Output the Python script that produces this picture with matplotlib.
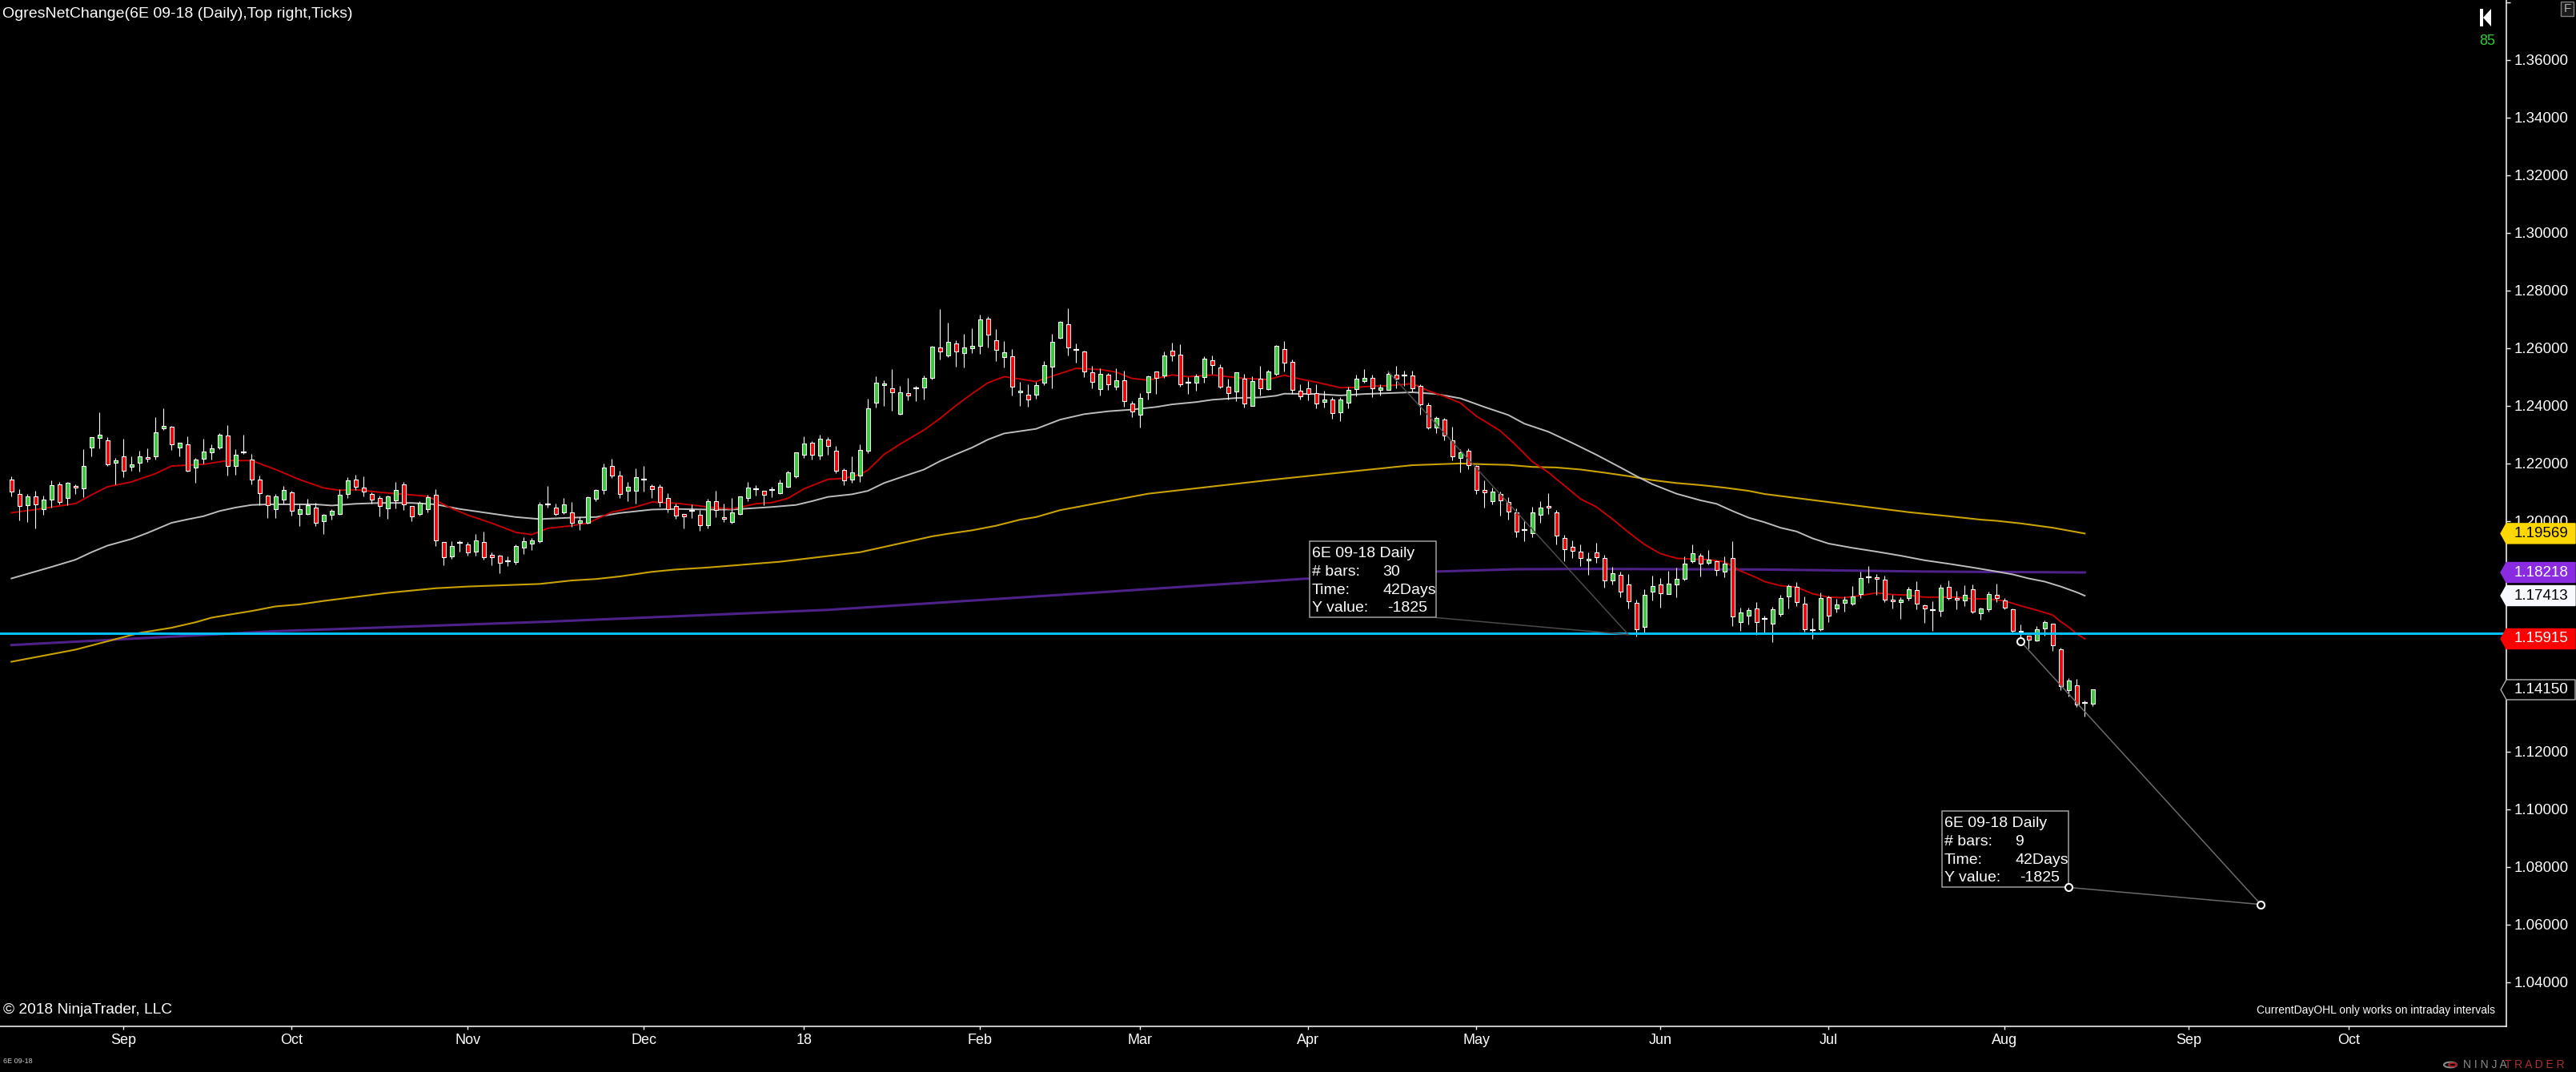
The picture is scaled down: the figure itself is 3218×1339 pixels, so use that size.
import numpy as np
import matplotlib
matplotlib.use('Agg')
import matplotlib.pyplot as plt
from matplotlib.patches import Rectangle, Polygon, Circle
import matplotlib.transforms as mtransforms

plt.rcParams['font.family'] = ['Liberation Sans', 'DejaVu Sans']

# ---- daily bars, 6E 09-18 (bar index 0 = 14 Aug 2017) ----
opens = [1.2144, 1.2095, 1.2054, 1.2085, 1.2042, 1.2074, 1.2127, 1.2080, 1.2121, 1.2113,
         1.2255, 1.2288, 1.2280, 1.2202, 1.2224, 1.2188, 1.2202, 1.2221, 1.2224, 1.2321,
         1.2327, 1.2255, 1.2266, 1.2187, 1.2216, 1.2238, 1.2254, 1.2296, 1.2191, 1.2239,
         1.2213, 1.2144, 1.2088, 1.2041, 1.2076, 1.2099, 1.2024, 1.2026, 1.2046, 1.1999,
         1.2021, 1.2026, 1.2093, 1.2144, 1.2116, 1.2094, 1.2080, 1.2045, 1.2071, 1.2127,
         1.2052, 1.2026, 1.2040, 1.2091, 1.1927, 1.1877, 1.1926, 1.1919, 1.1893, 1.1927,
         1.1882, 1.1880, 1.1862, 1.1859, 1.1907, 1.1921, 1.1929, 1.2059, 1.2046, 1.2031,
         1.2030, 1.1993, 1.1995, 1.2077, 1.2107, 1.2191, 1.2157, 1.2105, 1.2105, 1.2144,
         1.2121, 1.2119, 1.2080, 1.2052, 1.2024, 1.2035, 1.2021, 1.1985, 1.2068, 1.2013,
         1.1996, 1.2026, 1.2080, 1.2111, 1.2105, 1.2107, 1.2098, 1.2120, 1.2154, 1.2231,
         1.2271, 1.2228, 1.2282, 1.2244, 1.2177, 1.2145, 1.2157, 1.2244, 1.2410, 1.2472,
         1.2462, 1.2373, 1.2445, 1.2461, 1.2463, 1.2498, 1.2602, 1.2574, 1.2616, 1.2582,
         1.2599, 1.2607, 1.2702, 1.2627, 1.2569, 1.2571, 1.2447, 1.2438, 1.2438, 1.2480,
         1.2535, 1.2635, 1.2682, 1.2594, 1.2588, 1.2516, 1.2457, 1.2507, 1.2466, 1.2488,
         1.2409, 1.2368, 1.2446, 1.2518, 1.2505, 1.2591, 1.2577, 1.2481, 1.2480, 1.2499,
         1.2557, 1.2532, 1.2466, 1.2449, 1.2493, 1.2399, 1.2493, 1.2457, 1.2510, 1.2596,
         1.2552, 1.2452, 1.2460, 1.2443, 1.2413, 1.2421, 1.2377, 1.2410, 1.2457, 1.2485,
         1.2496, 1.2455, 1.2456, 1.2507, 1.2504, 1.2505, 1.2469, 1.2402, 1.2326, 1.2352,
         1.2280, 1.2218, 1.2244, 1.2191, 1.2107, 1.2069, 1.2094, 1.2066, 1.2030, 1.1968,
         1.1957, 1.2021, 1.2052, 1.2030, 1.1941, 1.1910, 1.1894, 1.1863, 1.1891, 1.1871,
         1.1793, 1.1813, 1.1780, 1.1716, 1.1632, 1.1755, 1.1780, 1.1746, 1.1780, 1.1799,
         1.1860, 1.1880, 1.1855, 1.1860, 1.1824, 1.1871, 1.1651, 1.1671, 1.1696, 1.1662,
         1.1644, 1.1677, 1.1738, 1.1771, 1.1713, 1.1621, 1.1624, 1.1735, 1.1696, 1.1716,
         1.1713, 1.1746, 1.1805, 1.1805, 1.1796, 1.1727, 1.1719, 1.1732, 1.1760, 1.1707,
         1.1691, 1.1688, 1.1771, 1.1732, 1.1724, 1.1763, 1.1680, 1.1694, 1.1744, 1.1724,
         1.1694, 1.1619, 1.1602, 1.1585, 1.1627, 1.1644, 1.1555, 1.1413, 1.1430, 1.1369,
         1.1366]
highs = [1.2156, 1.2111, 1.2094, 1.2106, 1.2088, 1.2142, 1.2136, 1.2136, 1.2128, 1.2250,
         1.2291, 1.2378, 1.2292, 1.2219, 1.2285, 1.2225, 1.2244, 1.2253, 1.2361, 1.2392,
         1.2330, 1.2271, 1.2294, 1.2219, 1.2285, 1.2267, 1.2304, 1.2333, 1.2250, 1.2300,
         1.2233, 1.2158, 1.2092, 1.2094, 1.2122, 1.2105, 1.2061, 1.2077, 1.2064, 1.2024,
         1.2041, 1.2110, 1.2153, 1.2160, 1.2156, 1.2100, 1.2088, 1.2088, 1.2136, 1.2136,
         1.2052, 1.2069, 1.2090, 1.2111, 1.1927, 1.1931, 1.1933, 1.1928, 1.1956, 1.1964,
         1.1892, 1.1884, 1.1878, 1.1919, 1.1943, 1.1941, 1.2066, 1.2122, 1.2060, 1.2081,
         1.2067, 1.2016, 1.2086, 1.2112, 1.2200, 1.2217, 1.2175, 1.2137, 1.2183, 1.2192,
         1.2128, 1.2128, 1.2097, 1.2060, 1.2025, 1.2058, 1.2039, 1.2078, 1.2105, 1.2061,
         1.2080, 1.2085, 1.2135, 1.2125, 1.2105, 1.2119, 1.2144, 1.2174, 1.2238, 1.2294,
         1.2278, 1.2300, 1.2292, 1.2261, 1.2183, 1.2225, 1.2266, 1.2425, 1.2503, 1.2488,
         1.2528, 1.2470, 1.2497, 1.2470, 1.2506, 1.2609, 1.2736, 1.2689, 1.2628, 1.2650,
         1.2670, 1.2717, 1.2711, 1.2667, 1.2625, 1.2596, 1.2483, 1.2475, 1.2484, 1.2556,
         1.2650, 1.2693, 1.2739, 1.2617, 1.2591, 1.2538, 1.2530, 1.2514, 1.2530, 1.2521,
         1.2416, 1.2444, 1.2506, 1.2518, 1.2589, 1.2619, 1.2614, 1.2500, 1.2511, 1.2572,
         1.2575, 1.2543, 1.2493, 1.2516, 1.2511, 1.2502, 1.2539, 1.2525, 1.2611, 1.2625,
         1.2560, 1.2474, 1.2486, 1.2474, 1.2452, 1.2429, 1.2429, 1.2466, 1.2508, 1.2528,
         1.2508, 1.2474, 1.2521, 1.2538, 1.2521, 1.2521, 1.2474, 1.2411, 1.2364, 1.2357,
         1.2327, 1.2249, 1.2252, 1.2195, 1.2141, 1.2116, 1.2102, 1.2082, 1.2044, 1.2002,
         1.2049, 1.2069, 1.2096, 1.2038, 1.1952, 1.1932, 1.1919, 1.1891, 1.1924, 1.1882,
         1.1841, 1.1824, 1.1816, 1.1727, 1.1763, 1.1810, 1.1802, 1.1827, 1.1838, 1.1877,
         1.1919, 1.1888, 1.1899, 1.1864, 1.1877, 1.1930, 1.1699, 1.1699, 1.1719, 1.1672,
         1.1702, 1.1744, 1.1781, 1.1788, 1.1738, 1.1663, 1.1753, 1.1741, 1.1730, 1.1738,
         1.1774, 1.1824, 1.1844, 1.1816, 1.1810, 1.1744, 1.1735, 1.1771, 1.1791, 1.1711,
         1.1722, 1.1780, 1.1793, 1.1757, 1.1777, 1.1780, 1.1699, 1.1755, 1.1782, 1.1732,
         1.1696, 1.1642, 1.1602, 1.1635, 1.1655, 1.1644, 1.1560, 1.1455, 1.1452, 1.1377,
         1.1416]
lows = [1.2086, 1.2003, 1.1997, 1.1975, 1.2023, 1.2047, 1.2058, 1.2054, 1.2094, 1.2084,
        1.2225, 1.2253, 1.2190, 1.2128, 1.2153, 1.2176, 1.2172, 1.2205, 1.2214, 1.2315,
        1.2247, 1.2225, 1.2172, 1.2134, 1.2199, 1.2213, 1.2250, 1.2158, 1.2161, 1.2233,
        1.2128, 1.2054, 1.2012, 1.2012, 1.2062, 1.2020, 1.1984, 1.2023, 1.1984, 1.1954,
        1.2004, 1.2023, 1.2079, 1.2108, 1.2086, 1.2061, 1.2017, 1.2009, 1.2044, 1.2039,
        1.2000, 1.2019, 1.2029, 1.1914, 1.1848, 1.1868, 1.1894, 1.1879, 1.1881, 1.1867,
        1.1847, 1.1819, 1.1845, 1.1851, 1.1887, 1.1901, 1.1926, 1.2047, 1.2018, 1.2026,
        1.1981, 1.1970, 1.1991, 1.2069, 1.2093, 1.2151, 1.2081, 1.2069, 1.2060, 1.2103,
        1.2081, 1.2050, 1.2031, 1.2007, 1.1975, 1.2012, 1.1965, 1.1976, 1.2014, 1.1998,
        1.1991, 1.2021, 1.2068, 1.2088, 1.2055, 1.2084, 1.2094, 1.2116, 1.2151, 1.2218,
        1.2214, 1.2214, 1.2231, 1.2165, 1.2126, 1.2132, 1.2137, 1.2237, 1.2394, 1.2401,
        1.2384, 1.2370, 1.2418, 1.2415, 1.2423, 1.2491, 1.2562, 1.2570, 1.2535, 1.2532,
        1.2582, 1.2580, 1.2602, 1.2554, 1.2532, 1.2437, 1.2401, 1.2396, 1.2424, 1.2471,
        1.2462, 1.2632, 1.2576, 1.2551, 1.2501, 1.2462, 1.2437, 1.2456, 1.2454, 1.2398,
        1.2362, 1.2326, 1.2423, 1.2440, 1.2498, 1.2554, 1.2465, 1.2440, 1.2453, 1.2479,
        1.2512, 1.2462, 1.2421, 1.2416, 1.2395, 1.2399, 1.2437, 1.2455, 1.2505, 1.2520,
        1.2440, 1.2423, 1.2420, 1.2392, 1.2395, 1.2354, 1.2348, 1.2392, 1.2434, 1.2479,
        1.2429, 1.2437, 1.2454, 1.2460, 1.2468, 1.2449, 1.2370, 1.2320, 1.2304, 1.2279,
        1.2212, 1.2170, 1.2179, 1.2095, 1.2048, 1.2057, 1.2018, 1.2004, 1.1945, 1.1929,
        1.1945, 1.1993, 1.2026, 1.1920, 1.1862, 1.1873, 1.1845, 1.1813, 1.1854, 1.1770,
        1.1781, 1.1737, 1.1698, 1.1601, 1.1614, 1.1726, 1.1701, 1.1746, 1.1737, 1.1793,
        1.1855, 1.1807, 1.1849, 1.1812, 1.1804, 1.1637, 1.1618, 1.1640, 1.1604, 1.1614,
        1.1579, 1.1670, 1.1698, 1.1704, 1.1615, 1.1590, 1.1620, 1.1651, 1.1682, 1.1687,
        1.1707, 1.1734, 1.1787, 1.1745, 1.1718, 1.1697, 1.1662, 1.1724, 1.1695, 1.1648,
        1.1618, 1.1670, 1.1727, 1.1695, 1.1704, 1.1679, 1.1657, 1.1685, 1.1720, 1.1693,
        1.1613, 1.1597, 1.1559, 1.1582, 1.1602, 1.1551, 1.1413, 1.1391, 1.1354, 1.1323,
        1.1357]
closes = [1.2102, 1.2052, 1.2085, 1.2057, 1.2074, 1.2124, 1.2066, 1.2132, 1.2116, 1.2191,
          1.2291, 1.2299, 1.2198, 1.2210, 1.2174, 1.2196, 1.2224, 1.2216, 1.2307, 1.2330,
          1.2266, 1.2271, 1.2174, 1.2213, 1.2241, 1.2252, 1.2299, 1.2191, 1.2230, 1.2239,
          1.2144, 1.2096, 1.2055, 1.2085, 1.2107, 1.2035, 1.2041, 1.2055, 1.1993, 1.2021,
          1.2035, 1.2091, 1.2141, 1.2119, 1.2102, 1.2074, 1.2052, 1.2085, 1.2107, 1.2057,
          1.2015, 1.2063, 1.2082, 1.1934, 1.1874, 1.1913, 1.1926, 1.1890, 1.1932, 1.1876,
          1.1876, 1.1854, 1.1862, 1.1913, 1.1930, 1.1932, 1.2057, 1.2059, 1.2026, 1.2057,
          1.1993, 1.2002, 1.2083, 1.2107, 1.2185, 1.2157, 1.2094, 1.2119, 1.2152, 1.2144,
          1.2110, 1.2066, 1.2041, 1.2020, 1.2016, 1.2035, 1.1985, 1.2068, 1.2038, 1.2007,
          1.2030, 1.2085, 1.2116, 1.2111, 1.2091, 1.2107, 1.2132, 1.2169, 1.2238, 1.2269,
          1.2230, 1.2285, 1.2260, 1.2174, 1.2141, 1.2169, 1.2246, 1.2391, 1.2480, 1.2477,
          1.2446, 1.2446, 1.2435, 1.2461, 1.2496, 1.2605, 1.2588, 1.2621, 1.2588, 1.2602,
          1.2607, 1.2699, 1.2646, 1.2594, 1.2585, 1.2466, 1.2452, 1.2421, 1.2471, 1.2541,
          1.2623, 1.2691, 1.2602, 1.2594, 1.2518, 1.2482, 1.2510, 1.2474, 1.2488, 1.2416,
          1.2380, 1.2427, 1.2502, 1.2496, 1.2574, 1.2574, 1.2474, 1.2481, 1.2502, 1.2563,
          1.2541, 1.2466, 1.2443, 1.2516, 1.2407, 1.2485, 1.2460, 1.2518, 1.2607, 1.2549,
          1.2455, 1.2432, 1.2441, 1.2407, 1.2421, 1.2374, 1.2421, 1.2455, 1.2493, 1.2496,
          1.2460, 1.2463, 1.2510, 1.2493, 1.2504, 1.2460, 1.2405, 1.2326, 1.2357, 1.2296,
          1.2224, 1.2238, 1.2195, 1.2109, 1.2099, 1.2102, 1.2071, 1.2032, 1.1963, 1.1968,
          1.2030, 1.2046, 1.2046, 1.1949, 1.1902, 1.1896, 1.1871, 1.1868, 1.1874, 1.1793,
          1.1818, 1.1755, 1.1721, 1.1624, 1.1744, 1.1774, 1.1749, 1.1782, 1.1799, 1.1852,
          1.1888, 1.1852, 1.1866, 1.1830, 1.1852, 1.1669, 1.1682, 1.1691, 1.1649, 1.1662,
          1.1694, 1.1732, 1.1774, 1.1719, 1.1624, 1.1621, 1.1732, 1.1671, 1.1710, 1.1727,
          1.1738, 1.1802, 1.1805, 1.1799, 1.1727, 1.1721, 1.1727, 1.1763, 1.1713, 1.1696,
          1.1691, 1.1769, 1.1732, 1.1727, 1.1744, 1.1685, 1.1696, 1.1746, 1.1732, 1.1699,
          1.1619, 1.1615, 1.1588, 1.1624, 1.1649, 1.1569, 1.1427, 1.1446, 1.1363, 1.1369,
          1.1415]

# ---- moving averages (bar index, value) ----
red_ma_idx = [0, 3, 8, 10, 12, 15, 18, 20, 24, 27, 30, 33, 36, 39, 41, 43, 46, 50, 52, 53,
              55, 57, 60, 63, 65, 67, 70, 72, 75, 78, 80, 83, 85, 87, 90, 93, 95, 97, 99, 102,
              104, 106, 107, 109, 111, 114, 116, 118, 120, 122, 124, 126, 128, 130, 131, 133,
              136, 138, 140, 142, 145, 147, 150, 152, 154, 157, 159, 161, 163, 166, 168, 170,
              172, 175, 177, 179, 181, 183, 186, 188, 190, 192, 194, 196, 198, 200, 202, 204,
              206, 208, 210, 212, 214, 216, 218, 219, 221, 223, 225, 227, 229, 231, 233, 235,
              237, 239, 241, 243, 245, 247, 249, 251, 253, 255, 256, 257, 258, 259]
red_ma_val = [1.2029, 1.2040, 1.2061, 1.2091, 1.2119, 1.2136, 1.2165, 1.2191, 1.2197, 1.2210,
              1.2210, 1.2179, 1.2144, 1.2115, 1.2107, 1.2109, 1.2100, 1.2091, 1.2086, 1.2072,
              1.2044, 1.2021, 1.1993, 1.1961, 1.1953, 1.1975, 1.1984, 1.1993, 1.2031, 1.2049,
              1.2066, 1.2062, 1.2056, 1.2049, 1.2042, 1.2060, 1.2064, 1.2079, 1.2112, 1.2145,
              1.2148, 1.2162, 1.2177, 1.2231, 1.2267, 1.2316, 1.2356, 1.2401, 1.2442, 1.2480,
              1.2501, 1.2493, 1.2484, 1.2503, 1.2512, 1.2530, 1.2526, 1.2517, 1.2495, 1.2489,
              1.2507, 1.2501, 1.2507, 1.2501, 1.2495, 1.2491, 1.2506, 1.2493, 1.2482, 1.2463,
              1.2464, 1.2468, 1.2470, 1.2477, 1.2452, 1.2433, 1.2410, 1.2364, 1.2313, 1.2262,
              1.2206, 1.2169, 1.2123, 1.2077, 1.2049, 1.2007, 1.1961, 1.1919, 1.1887, 1.1871,
              1.1868, 1.1866, 1.1859, 1.1827, 1.1804, 1.1790, 1.1776, 1.1771, 1.1748, 1.1736,
              1.1734, 1.1742, 1.1751, 1.1745, 1.1743, 1.1736, 1.1736, 1.1736, 1.1730, 1.1730,
              1.1723, 1.1706, 1.1691, 1.1674, 1.1651, 1.1632, 1.1609, 1.15915]

grey_ma_idx = [0, 5, 8, 10, 12, 15, 17, 20, 22, 24, 26, 28, 30, 32, 35, 38, 40, 43, 46, 50,
               53, 56, 60, 63, 66, 70, 73, 76, 80, 83, 87, 90, 95, 98, 100, 102, 105, 107, 109,
               111, 114, 116, 118, 120, 122, 124, 126, 128, 131, 134, 137, 140, 143, 145, 148,
               150, 153, 156, 158, 159, 163, 166, 169, 172, 175, 178, 181, 184, 187, 189, 192,
               195, 198, 201, 203, 205, 208, 211, 213, 215, 217, 219, 221, 223, 225, 227, 230,
               233, 236, 239, 242, 245, 248, 250, 252, 254, 256, 258, 259]
grey_ma_val = [1.1801, 1.1841, 1.1866, 1.1892, 1.1915, 1.1938, 1.1959, 1.1994, 1.2006, 1.2017,
               1.2035, 1.2047, 1.2056, 1.2058, 1.2058, 1.2058, 1.2054, 1.2060, 1.2063, 1.2063,
               1.2058, 1.2042, 1.2026, 1.2014, 1.2007, 1.2012, 1.2014, 1.2028, 1.2040, 1.2042,
               1.2040, 1.2040, 1.2049, 1.2056, 1.2069, 1.2084, 1.2093, 1.2105, 1.2132, 1.2151,
               1.2179, 1.2208, 1.2232, 1.2255, 1.2283, 1.2304, 1.2312, 1.2320, 1.2352, 1.2371,
               1.2381, 1.2387, 1.2396, 1.2405, 1.2413, 1.2421, 1.2427, 1.2429, 1.2435, 1.2442,
               1.2441, 1.2436, 1.2441, 1.2444, 1.2447, 1.2441, 1.2426, 1.2396, 1.2368, 1.2338,
               1.2310, 1.2271, 1.2230, 1.2186, 1.2156, 1.2128, 1.2095, 1.2072, 1.2060, 1.2035,
               1.2012, 1.1996, 1.1977, 1.1964, 1.1940, 1.1922, 1.1907, 1.1894, 1.1880, 1.1864,
               1.1852, 1.1839, 1.1825, 1.1815, 1.1801, 1.1790, 1.1773, 1.1753, 1.17413]

gold_ma_idx = [0, 8, 16, 20, 23, 25, 28, 30, 33, 36, 39, 43, 47, 50, 53, 57, 60, 63, 66, 70,
               73, 76, 80, 83, 87, 96, 106, 115, 117, 120, 123, 126, 128, 131, 142, 157, 168,
               175, 181, 184, 187, 190, 193, 196, 199, 202, 205, 208, 211, 214, 217, 219, 237,
               242, 246, 248, 251, 255, 259]
gold_ma_val = [1.1512, 1.1554, 1.1612, 1.1630, 1.1649, 1.1665, 1.1679, 1.1688, 1.1704, 1.1711,
               1.1723, 1.1737, 1.1751, 1.1759, 1.1767, 1.1773, 1.1776, 1.1779, 1.1782, 1.1794,
               1.1799, 1.1808, 1.1824, 1.1832, 1.1839, 1.1859, 1.1892, 1.1947, 1.1956, 1.1968,
               1.1984, 1.2005, 1.2014, 1.2038, 1.2095, 1.2142, 1.2174, 1.2194, 1.2200, 1.2197,
               1.2195, 1.2188, 1.2186, 1.2179, 1.2168, 1.2156, 1.2142, 1.2132, 1.2125, 1.2116,
               1.2105, 1.2094, 1.2031, 1.2017, 1.2005, 1.2001, 1.1992, 1.1977, 1.19569]

purple_ma_idx = [0, 33, 67, 102, 136, 161, 178, 188, 198, 208, 219, 239, 259]
purple_ma_val = [1.1570, 1.1618, 1.1651, 1.1692, 1.1753, 1.1799, 1.1825, 1.1833, 1.1834,
                 1.1833, 1.1832, 1.1825, 1.18218]

hline_price = 1.1610

month_idx = [14, 35, 57, 79, 99, 121, 141, 162, 183, 206, 227, 249, 272, 292]
month_lbl = ['Sep', 'Oct', 'Nov', 'Dec', '18', 'Feb', 'Mar', 'Apr', 'May', 'Jun', 'Jul',
             'Aug', 'Sep', 'Oct']

# ruler drawings: start bar, start price, bars counted
ruler_start_idx = [172, 251]
ruler_start_px = [1.25185, 1.15825]
ruler_bars = [30, 9]
ruler_span = 30
ruler_ticks = -1825
tick_size = 0.00005
ruler_days = '42Days'

# ---------------------------------------------------------------------------
W, H = 3218, 1339
fig = plt.figure(figsize=(W / 100, H / 100), dpi=100, facecolor='black')
plot_r, plot_b = 3131, 1282
ax = fig.add_axes([0, 1 - plot_b / H, plot_r / W, plot_b / H])
ax.set_facecolor('black')


def fx(px):
    return px / W


def fy(py):
    return 1 - py / H


x = np.arange(len(opens))
o = np.array(opens)
h = np.array(highs)
l = np.array(lows)
c = np.array(closes)

# moving averages
ax.plot(purple_ma_idx, purple_ma_val, color='#4e2288', lw=2.2, zorder=2)
ax.plot(gold_ma_idx, gold_ma_val, color='#c9a200', lw=1.5, zorder=2)
ax.plot(grey_ma_idx, grey_ma_val, color='#bdbdbd', lw=1.4, zorder=2)
ax.plot(red_ma_idx, red_ma_val, color='#c40000', lw=1.4, zorder=2)

# candles
ax.vlines(x, l, h, color='white', lw=0.8, zorder=3)
up = c > o
dn = c < o
dj = c == o
bw = 0.55
ax.bar(x[up], (c - o)[up], bottom=o[up], width=bw, color='#32cd32', edgecolor='white',
       linewidth=0.8, zorder=3.2)
ax.bar(x[dn], (o - c)[dn], bottom=c[dn], width=bw, color='#ff0000', edgecolor='white',
       linewidth=0.8, zorder=3.2)
ax.hlines(c[dj], x[dj] - bw / 2 - 0.05, x[dj] + bw / 2 + 0.05, color='white', lw=1.6, zorder=3.2)

# horizontal line
ax.axhline(hline_price, color='#00bfff', lw=2.2, zorder=4)

# rulers
for n, (si, sp, nb) in enumerate(zip(ruler_start_idx, ruler_start_px, ruler_bars)):
    ei = si + ruler_span
    ep = sp + ruler_ticks * tick_size
    ai = ei - 24
    ap = ep + 0.0059
    lc = '#4a4a4a' if n == 0 else '#6a6a6a'
    ax.plot([si, ei], [sp, ep], color=lc, lw=1.1, zorder=4.2)
    ax.plot([ai, ei], [ap, ep], color=lc, lw=1.1, zorder=4.2)
    bwid = 15.86
    bhgt = 95 / 3600
    ax.add_patch(Rectangle((ai - bwid, ap), bwid, bhgt, facecolor='black',
                           edgecolor='#a0a0a0', lw=1.1, zorder=4.5))
    rows = ['6E 09-18 Daily', '# bars:', 'Time:', 'Y value:']
    vals = [None, str(nb), ruler_days, str(ruler_ticks)]
    offs = [80, 57.3, 34, 11.6]
    for r, v, dy in zip(rows, vals, offs):
        ax.text(ai - 15.53, ap + dy / 3600, r, color='white', fontsize=14,
                va='center', ha='left', zorder=4.6)
        if v is not None:
            vx = ai - 6.16 if v.startswith('-') else ai - 6.73
            ax.text(vx, ap + dy / 3600, v, color='white', fontsize=14,
                    va='center', ha='left', zorder=4.6)
    if n == 1:
        ax.plot([si, ai, ei], [sp, ap, ep], 'o', ms=6.5, mfc='black', mec='white',
                mew=1.5, zorder=5)

ax.set_xlim(-1.43, 311.67)
ax.set_ylim(1.02469, 1.3808)

# axes styling
for s in ['top', 'left']:
    ax.spines[s].set_visible(False)
for s in ['right', 'bottom']:
    ax.spines[s].set_color('white')
    ax.spines[s].set_linewidth(1.1)
ax.yaxis.tick_right()
yt = np.round(np.arange(1.04, 1.3801, 0.02), 2)
hidden = [1.14, 1.16, 1.18, 1.38]   # covered by the price markers / cut at the top
ax.set_yticks(yt)
ax.set_yticklabels(['' if v in hidden else '%.5f' % v for v in yt])
ax.set_xticks(month_idx)
ax.set_xticklabels(month_lbl)
ax.tick_params(axis='y', colors='white', labelsize=13.5, length=3.6, width=1, pad=3.6)
ax.tick_params(axis='x', colors='white', labelsize=13, length=2.9, width=1, pad=3.6)

# price markers on the right axis
trans = mtransforms.blended_transform_factory(fig.transFigure, ax.transData)
half = 12.5 / 3600
markers = [(gold_ma_val[-1], '#ffd700', 'black', '#ffd700'),
           (purple_ma_val[-1], '#8a2be2', 'white', '#8a2be2'),
           (grey_ma_val[-1], '#f8f8ff', 'black', '#f8f8ff'),
           (red_ma_val[-1], '#ff0000', 'white', '#ff0000'),
           (closes[-1], 'black', 'white', '#b0b0b0')]
for val, face, tc, ec in markers:
    poly = Polygon([(fx(3124), val), (fx(3131), val + half), (fx(3217), val + half),
                    (fx(3217), val - half), (fx(3131), val - half)], closed=True,
                   transform=trans, facecolor=face, edgecolor=ec, lw=1, zorder=10)
    fig.add_artist(poly)
    fig.text(fx(3141), val, '%.5f' % val, transform=trans, color=tc, fontsize=13.5,
             va='center', ha='left', zorder=11)

# header and footer texts
fig.text(fx(3), fy(17), 'OgresNetChange(6E 09-18 (Daily),Top right,Ticks)', color='white',
         fontsize=14, va='center', ha='left',
         family=['Liberation Sans Narrow', 'Liberation Sans'])
fig.text(fx(4), fy(1262), '\u00a9 2018 NinjaTrader, LLC', color='white', fontsize=13.8,
         va='center', ha='left')
fig.text(fx(3117), fy(1262), 'CurrentDayOHL only works on intraday intervals', color='white',
         fontsize=10, va='center', ha='right')
fig.text(fx(4), fy(1326), '6E 09-18', color='#c8c8c8', fontsize=6.5, va='center', ha='left')

# top right widgets
fig.add_artist(Rectangle((fx(3098), fy(33)), 4 / W, 22 / H, transform=fig.transFigure,
                         facecolor='white', edgecolor='none'))
fig.add_artist(Polygon([(fx(3112), fy(11)), (fx(3112), fy(33)), (fx(3102), fy(22))],
                       closed=True, transform=fig.transFigure, facecolor='white',
                       edgecolor='none'))
fig.text(fx(3107), fy(52), '85', color='#32cd32', fontsize=13, va='center', ha='center')
fig.add_artist(Rectangle((fx(3199), fy(20)), 16 / W, 18 / H, transform=fig.transFigure,
                         facecolor='#1a1a1a', edgecolor='#808080', lw=1))
fig.text(fx(3207), fy(11), 'F', color='#b0b0b0', fontsize=11, va='center', ha='center')

# NinjaTrader logo
fig.add_artist(Circle((fx(3061), fy(1330)), 8 / W, transform=fig.transFigure,
                      facecolor='none', edgecolor='#8a8a8a', lw=1.5))
fig.add_artist(Circle((fx(3064), fy(1330)), 5 / W, transform=fig.transFigure,
                      facecolor='none', edgecolor='#a02020', lw=1.5))
fig.text(fx(3077), fy(1330), 'N I N J A', color='#8a8a8a', fontsize=10, va='center',
         ha='left')
fig.text(fx(3129), fy(1330), 'T R A D E R', color='#a83232', fontsize=10, va='center',
         ha='left')

fig.savefig('out.png', dpi=100, facecolor='black')
